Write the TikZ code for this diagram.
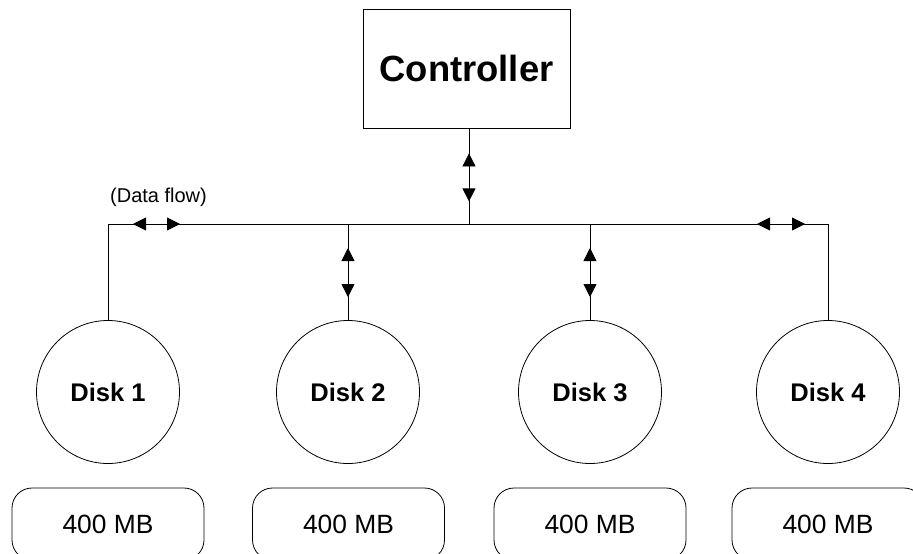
\documentclass[tikz,border=0pt]{standalone}
\usepackage{fontspec}
\setmainfont{Liberation Sans}
\usetikzlibrary{arrows.meta,decorations.markings}
\tikzset{dtip/.tip={Triangle[length=13pt,width=13pt]}}
\begin{document}
\begin{tikzpicture}[x=1pt,y=-1pt,
  line/.style={draw=black,line width=0.8pt},
  diskbox/.style={circle,draw,line width=0.8pt,minimum size=143pt,inner sep=0pt,font=\fontsize{25.5}{27}\selectfont\bfseries},
  sizebox/.style={rectangle,draw,line width=0.8pt,rounded corners=20pt,minimum width=192pt,minimum height=72pt,inner sep=0pt,font=\fontsize{26.4}{28}\selectfont},
  twoway/.style 2 args={postaction={decorate},decoration={markings,
     mark=at position #1 with {\arrowreversed{dtip}},
     mark=at position #2 with {\arrow{dtip}}}}
]
\useasboundingbox (0,0) rectangle (913,554);
\begin{scope}
\clip (0,0) rectangle (913,554);
\node[draw,line width=0.8pt,minimum width=207pt,minimum height=119pt,inner sep=0pt,font=\fontsize{36.4}{38}\selectfont\bfseries] (ctrl) at (466.5,68.5) {Controller};

\node[diskbox] (d1) at (108,392) {Disk 1};
\node[diskbox] (d2) at (348,392) {Disk 2};
\node[diskbox] (d3) at (590,392) {Disk 3};
\node[diskbox] (d4) at (828,392) {Disk 4};

\node[sizebox] (m1) at (108,524) {400 MB};
\node[sizebox] (m2) at (348.5,524) {400 MB};
\node[sizebox] (m3) at (590,524) {400 MB};
\node[sizebox] (m4) at (828,524) {400 MB};

\coordinate (bl) at (108,224);
\coordinate (b2) at (348,224);
\coordinate (bc) at (469,224);
\coordinate (b3) at (590,224);
\coordinate (br) at (828,224);

\node[font=\fontsize{20}{22}\selectfont,anchor=base,inner sep=0pt] (lbl) at (158.5,202) {(Data flow)};

\draw[line] (d1.north) -- (bl);
\draw[line,twoway={25pt}{72pt}] (bl) -- (b2);
\draw[line] (b2) -- (b3);
\draw[line,twoway={167pt}{215pt}] (b3) -- (br);
\draw[line] (br) -- (d4.north);
\draw[line,twoway={25pt}{73pt}] (ctrl.south -| bc) -- (bc);
\draw[line,twoway={24pt}{73pt}] (b2) -- (d2.north);
\draw[line,twoway={24pt}{73pt}] (b3) -- (d3.north);
\end{scope}
\end{tikzpicture}
\end{document}
